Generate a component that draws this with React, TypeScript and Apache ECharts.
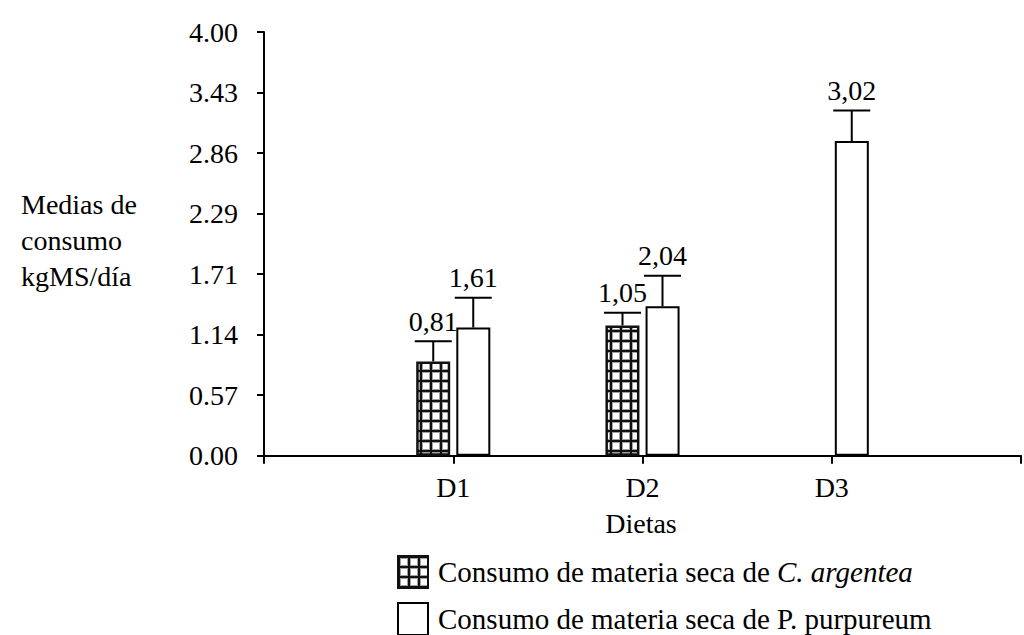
import React, { useEffect, useRef } from "react";
import * as echarts from "echarts";

const categories = ["", "D1", "D2", "D3", ""];
const argenteaMeans: (number | null)[] = [null, 0.89, 1.23, null, null];
const argenteaErrTop: (number | null)[] = [null, 1.08, 1.35, null, null];
const argenteaLabels = ["", "0,81", "1,05", "", ""];
const purpureumMeans: (number | null)[] = [null, 1.21, 1.41, 2.97, null];
const purpureumErrTop: (number | null)[] = [null, 1.49, 1.7, 3.26, null];
const purpureumLabels = ["", "1,61", "2,04", "3,02", ""];
const yMin = 0;
const yMax = 4;
const yIntervals = 7;
const nameArgentea = "Consumo de materia seca de C. argentea";
const namePurpureum = "Consumo de materia seca de P. purpureum";
const yTitleLines = ["Medias de", "consumo", "kgMS/día"];
const xTitle = "Dietas";

const FONT = "'Liberation Serif', 'Times New Roman', serif";

function makePattern(): HTMLCanvasElement {
  const c = document.createElement("canvas");
  c.width = 10;
  c.height = 10;
  const ctx = c.getContext("2d")!;
  ctx.fillStyle = "#111";
  ctx.fillRect(0, 0, 10, 10);
  ctx.fillStyle = "#a0a0a0";
  ctx.fillRect(2, 2, 8, 8);
  ctx.fillStyle = "#fff";
  ctx.fillRect(3, 3, 6, 6);
  return c;
}

function errData(means: (number | null)[], tops: (number | null)[]) {
  const out: number[][] = [];
  means.forEach((m, i) => {
    const t = tops[i];
    if (m != null && t != null) out.push([i, m, t]);
  });
  return out;
}

function errSeries(
  means: (number | null)[],
  tops: (number | null)[],
  labels: string[],
  offset: number
) {
  return {
    type: "custom",
    data: errData(means, tops),
    encode: { x: 0, y: [1, 2] },
    clip: false,
    z: 5,
    silent: true,
    renderItem: (params: any, api: any) => {
      const idx = api.value(0);
      const base = api.coord([idx, api.value(1)]);
      const top = api.coord([idx, api.value(2)]);
      const x = base[0] + offset;
      return {
        type: "group",
        children: [
          {
            type: "line",
            shape: { x1: x, y1: base[1], x2: x, y2: top[1] },
            style: { stroke: "#000", lineWidth: 2 },
          },
          {
            type: "line",
            shape: { x1: x - 18.5, y1: top[1], x2: x + 18.5, y2: top[1] },
            style: { stroke: "#000", lineWidth: 2 },
          },
          {
            type: "text",
            x: x,
            y: top[1] - 6,
            style: {
              text: labels[idx],
              align: "center",
              verticalAlign: "bottom",
              fontFamily: FONT,
              fontSize: 28,
              fill: "#000",
            },
          },
        ],
      };
    },
  };
}

export default function App() {
  const ref = useRef<HTMLDivElement>(null);
  useEffect(() => {
    if (!ref.current) return;
    const chart = echarts.init(ref.current, undefined, { renderer: "svg" });
    const pattern = makePattern();
    const option: any = {
      animation: false,
      backgroundColor: "#fff",
      grid: { left: 264, right: -11, top: 32, bottom: 179.3, containLabel: false },
      legend: {
        orient: "vertical",
        left: 392,
        top: 550,
        height: 200,
        itemWidth: 30,
        itemHeight: 32,
        itemGap: 13,
        icon: "rect",
        selectedMode: false,
        data: [nameArgentea, namePurpureum],
        formatter: (name: string) =>
          name === nameArgentea
            ? "{n|Consumo de materia seca de }{i|C. argentea}"
            : "{n|" + name + "}",
        textStyle: {
          padding: [0, 0, 0, 5],
          rich: {
            n: { fontFamily: FONT, fontSize: 29, lineHeight: 28, color: "#000" },
            i: {
              fontFamily: FONT,
              fontSize: 29,
              lineHeight: 28,
              color: "#000",
              fontStyle: "italic",
            },
          },
        },
      },
      xAxis: {
        type: "category",
        data: categories,
        boundaryGap: false,
        axisLine: { show: true, lineStyle: { color: "#000", width: 2 } },
        axisTick: { show: true, length: 8, inside: false, lineStyle: { color: "#000", width: 2 } },
        axisLabel: { fontFamily: FONT, fontSize: 28, color: "#000", margin: 18 },
        splitLine: { show: false },
      },
      yAxis: {
        type: "value",
        min: yMin,
        max: yMax,
        interval: (yMax - yMin) / yIntervals,
        axisLine: { show: true, lineStyle: { color: "#000", width: 2 } },
        axisTick: { show: true, length: 7, lineStyle: { color: "#000", width: 2 } },
        axisLabel: {
          fontFamily: FONT,
          fontSize: 28,
          color: "#000",
          margin: 26,
          formatter: (v: number) => v.toFixed(2),
        },
        splitLine: { show: false },
      },
      series: [
        {
          name: nameArgentea,
          type: "bar",
          data: argenteaMeans,
          barWidth: 34,
          barGap: "18%",
          itemStyle: {
            color: { image: pattern, repeat: "repeat" },
            borderColor: "#111",
            borderWidth: 2.5,
          },
        },
        {
          name: namePurpureum,
          type: "bar",
          data: purpureumMeans,
          barWidth: 34,
          barGap: "18%",
          itemStyle: { color: "#fff", borderColor: "#000", borderWidth: 2 },
        },
        errSeries(argenteaMeans, argenteaErrTop, argenteaLabels, -20),
        errSeries(purpureumMeans, purpureumErrTop, purpureumLabels, 20),
      ],
      graphic: [
        {
          type: "text",
          left: 21,
          top: 186,
          style: {
            text: yTitleLines.join("\n"),
            fontFamily: FONT,
            fontSize: 28,
            lineHeight: 36,
            fill: "#000",
          },
        },
        {
          type: "text",
          x: 641,
          y: 523,
          style: {
            text: xTitle,
            align: "center",
            verticalAlign: "middle",
            fontFamily: FONT,
            fontSize: 28,
            fill: "#000",
          },
        },
      ],
    };
    chart.setOption(option);
    return () => chart.dispose();
  }, []);
  return (
    <div
      ref={ref}
      style={{ position: "absolute", left: 0, top: 0, width: 1024, height: 635 }}
    />
  );
}
